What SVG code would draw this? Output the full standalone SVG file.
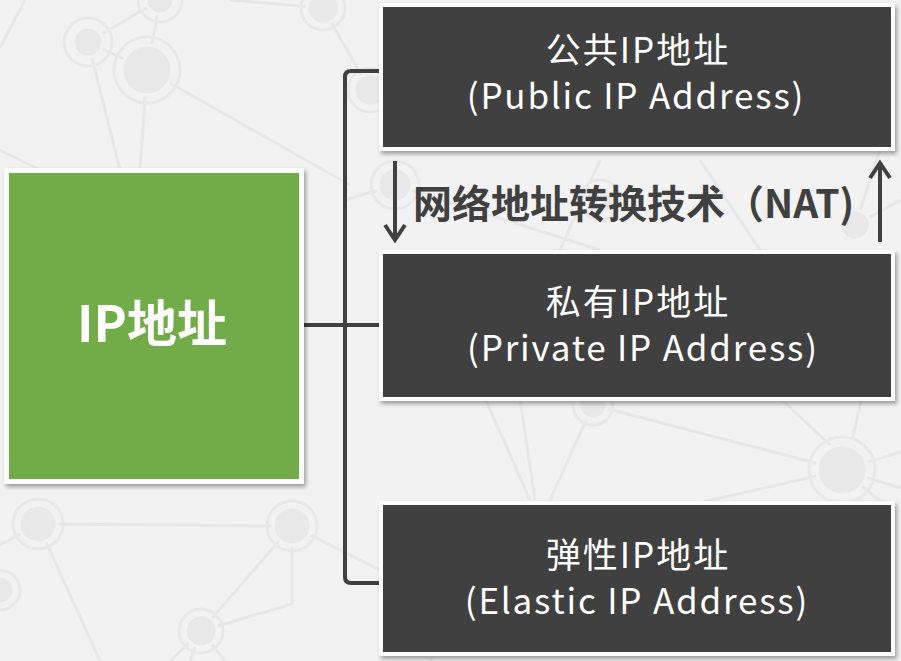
<svg xmlns="http://www.w3.org/2000/svg" width="901" height="661" viewBox="0 0 901 661">
<defs>
<filter id="sh" x="-5%" y="-5%" width="112%" height="120%">
<feDropShadow dx="2" dy="3" stdDeviation="2" flood-color="#000" flood-opacity="0.35"/>
</filter>
</defs>
<style>
.bgl{stroke:#e7e7e7;stroke-width:3;fill:none}
.bgc{fill:#e8e8e8;stroke:#f2f2f2;stroke-width:3}
.bgr{fill:none;stroke:#e8e8e8;stroke-width:3}
.dark{fill:#404040;stroke:#ffffff;stroke-width:4;filter:url(#sh)}
.green{fill:#71ac48;stroke:#ffffff;stroke-width:5;filter:url(#sh)}
.t{font-family:"Noto Sans CJK SC","Microsoft YaHei",sans-serif;fill:#ffffff;text-anchor:middle}
.cn{font-size:35px;letter-spacing:2px}
.en{font-size:35px;letter-spacing:1.8px}
.con{stroke:#404040;stroke-width:4;fill:none}
.nat{font-family:"Noto Sans CJK SC","Microsoft YaHei",sans-serif;font-weight:bold;font-size:39px;fill:#404040}
</style>
<rect width="901" height="661" fill="#f2f2f2"/>
<g id="background">
<path class="bgl" d="M0,48 L25,0 M88,42 L147,70 M88,42 L160,0 M160,0 L147,70 M88,42 L120,170 M147,70 L140,170 M147,70 L350,185 M230,0 L323,8 M323,8 L370,90 M0,150 L40,170 M395,185 L345,200 M38,524 L292,526 M38,524 L100,661 M38,524 L0,545 M292,526 L201,631 M292,526 L292,604 L201,631 M292,526 L380,570 M201,631 L170,661 M201,631 L190,661 M201,631 L225,661 M485,398 L530,500 M520,398 L535,500 M593,405 L550,500 M593,405 L842,470 M842,470 L901,452 M842,470 L901,488 M842,470 L690,505 M780,398 L830,445 M862,398 L852,440 M842,470 L885,505 M855,225 L901,200 M855,225 L880,150 M395,185 L600,250 M600,160 L560,250 M700,160 L760,250 M430,660 L470,600"/>
<circle class="bgr" cx="88" cy="42" r="24"/><circle class="bgc" cx="88" cy="42" r="15"/>
<circle class="bgr" cx="147" cy="70" r="33"/><circle class="bgc" cx="147" cy="70" r="25"/>
<circle class="bgr" cx="160" cy="0" r="22"/><circle class="bgc" cx="160" cy="0" r="14"/>
<circle class="bgr" cx="323" cy="8" r="22"/><circle class="bgc" cx="323" cy="8" r="16"/>
<circle class="bgr" cx="370" cy="90" r="22"/><circle class="bgc" cx="370" cy="90" r="16"/>
<circle class="bgr" cx="395" cy="185" r="24"/><circle class="bgc" cx="395" cy="185" r="17"/>
<circle class="bgr" cx="38" cy="524" r="25"/><circle class="bgc" cx="38" cy="524" r="19"/>
<circle class="bgr" cx="292" cy="526" r="25"/><circle class="bgc" cx="292" cy="526" r="19"/>
<circle class="bgr" cx="201" cy="631" r="22"/><circle class="bgc" cx="201" cy="631" r="16"/>
<circle class="bgr" cx="0" cy="590" r="20"/><circle class="bgc" cx="0" cy="590" r="14"/>
<circle class="bgr" cx="842" cy="470" r="33"/><circle class="bgc" cx="842" cy="470" r="25"/>
<circle class="bgr" cx="593" cy="405" r="20"/><circle class="bgc" cx="593" cy="405" r="14"/>
<circle class="bgr" cx="600" cy="200" r="20"/><circle class="bgc" cx="600" cy="200" r="14"/>
<circle class="bgc" cx="855" cy="225" r="15"/>
</g>
<g id="connectors">
<path class="con" d="M380,71 H351 Q345,71 345,77 V577 Q345,583 351,583 H380"/>
<path class="con" d="M303,325 H383"/>
<path class="con" d="M395,161 V240 M385,225 L395,240 L405,225"/>
<path class="con" d="M880,242 V163 M870,178 L880,163 L890,178"/>
</g>
<g id="nat-label">
<text class="nat" x="413" y="218">网络地址转换技术（NAT)</text>
</g>
<g id="ip-address">
<rect class="green" x="6.5" y="170.5" width="295" height="311"/>
<text class="t" x="152" y="342" font-size="50" font-weight="bold">IP地址</text>
</g>
<g id="public-ip">
<rect class="dark" x="381" y="5" width="512" height="144"/>
<text class="t cn" x="638" y="63">公共IP地址</text>
<text class="t en" x="636" y="109">(Public IP Address)</text>
</g>
<g id="private-ip">
<rect class="dark" x="381" y="252" width="512" height="147"/>
<text class="t cn" x="638" y="315">私有IP地址</text>
<text class="t en" x="643" y="361">(Private IP Address)</text>
</g>
<g id="elastic-ip">
<rect class="dark" x="381" y="503" width="512" height="151"/>
<text class="t cn" x="638" y="568">弹性IP地址</text>
<text class="t en" x="637" y="614">(Elastic IP Address)</text>
</g>
</svg>
